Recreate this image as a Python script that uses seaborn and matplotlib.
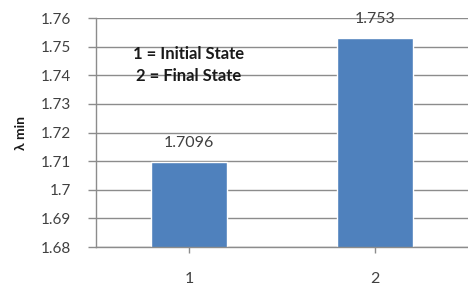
import matplotlib.pyplot as plt
import numpy as np
import pandas as pd
import seaborn as sns

# Données
states = ["1", "2"]
lambda_min = [1.7096, 1.753]
value_labels = ["1.7096", "1.753"]
y_ticks = [1.68, 1.69, 1.70, 1.71, 1.72, 1.73, 1.74, 1.75, 1.76]
y_tick_labels = ["1.68", "1.69", "1.7", "1.71", "1.72", "1.73", "1.74", "1.75", "1.76"]

df = pd.DataFrame({"state": states, "lambda_min": lambda_min})

sns.set_theme(style="white")
plt.rcParams["font.family"] = ["Lato", "DejaVu Sans"]

fig = plt.figure(figsize=(4.68, 2.87), dpi=100)
ax = fig.add_axes([0.205, 0.139, 0.795, 0.798])

ax.set_axisbelow(True)
for t in y_ticks:
    ax.axhline(t, color="#8c8c8c", linewidth=1.0, zorder=0)

sns.barplot(data=df, x="state", y="lambda_min", color="#4F81BD",
            width=0.41, saturation=1, ax=ax, zorder=2)

ax.set_ylim(1.68, 1.76)
ax.set_yticks(y_ticks)
ax.set_yticklabels(y_tick_labels)
ax.tick_params(axis="y", colors="#8c8c8c", labelcolor="#404040", labelsize=11,
               length=6, width=1, left=True, pad=12)
ax.tick_params(axis="x", colors="#8c8c8c", labelcolor="#404040", labelsize=11.5,
               length=4, width=1, bottom=True, pad=14)

for side in ["top", "right"]:
    ax.spines[side].set_visible(False)
for side in ["left", "bottom"]:
    ax.spines[side].set_color("#8c8c8c")
    ax.spines[side].set_linewidth(1.0)

for i, (v, lab) in enumerate(zip(lambda_min, value_labels)):
    ax.text(i, v + 0.0068, lab, ha="center", va="center", fontsize=11.5, color="#404040")

ax.set_xlabel("")
ax.set_ylabel("λ min", fontsize=10, fontweight="bold", color="#1a1a1a", labelpad=10)

ax.text(0.10, 0.843, "1 = Initial State", transform=ax.transAxes, fontsize=12,
        fontweight="bold", color="#1a1a1a", va="center")
ax.text(0.108, 0.747, "2 = Final State", transform=ax.transAxes, fontsize=12,
        fontweight="bold", color="#1a1a1a", va="center")

plt.savefig("out.png", dpi=100)
plt.close()
